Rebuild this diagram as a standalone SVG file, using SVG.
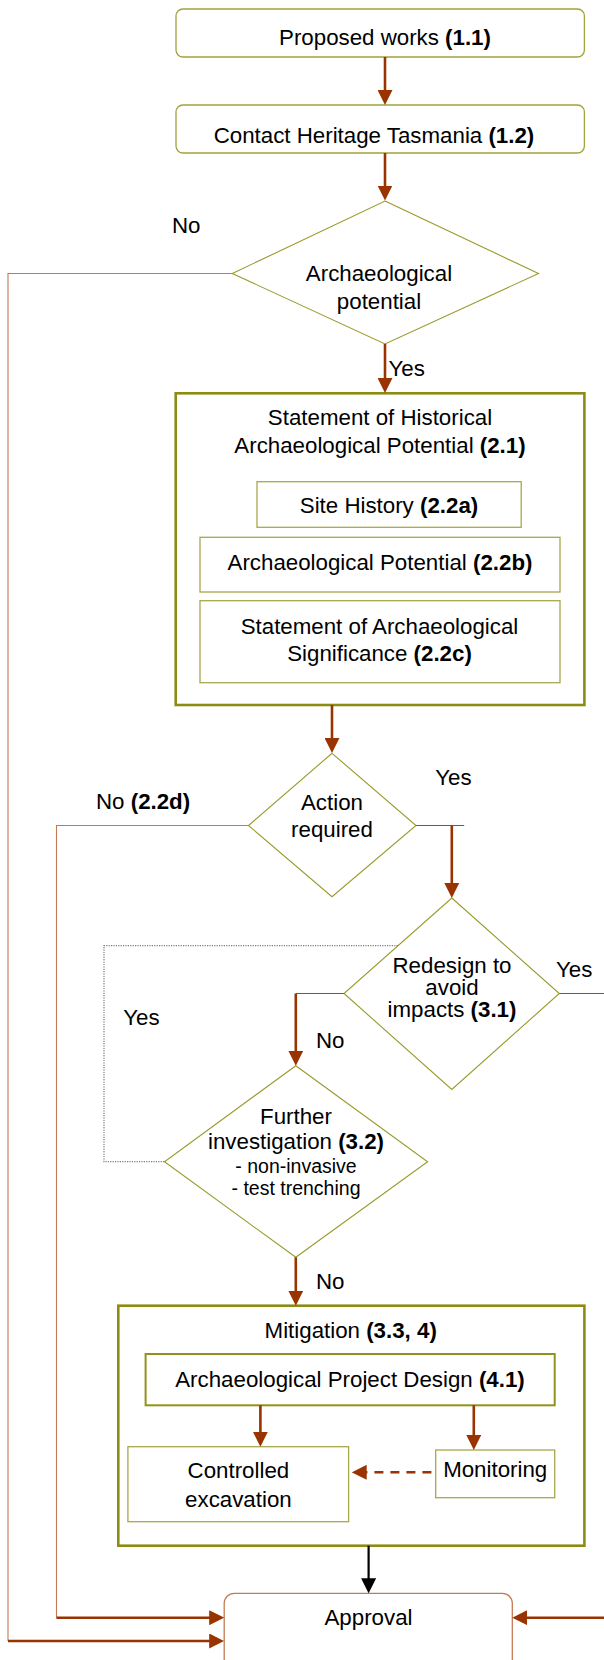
<svg xmlns="http://www.w3.org/2000/svg" width="604" height="1660" viewBox="0 0 604 1660">
<defs>
<marker id="ah" viewBox="0 0 15 15" refX="3" refY="7.5" markerWidth="15" markerHeight="15" markerUnits="userSpaceOnUse" orient="auto"><path d="M0,0 L15,7.5 L0,15 z" fill="#993300"/></marker>
<marker id="ahk" viewBox="0 0 15 15" refX="3" refY="7.5" markerWidth="15" markerHeight="15" markerUnits="userSpaceOnUse" orient="auto"><path d="M0,0 L15,7.5 L0,15 z" fill="#000"/></marker>
</defs>
<style>
text { font-family: "Liberation Sans", Arial, sans-serif; font-size: 22.3px; fill: #000; }
.m { text-anchor: middle; }
.s { font-size: 19.5px; }
.b { font-weight: bold; }
.rbox { fill: #fff; stroke: #a3a33c; stroke-width: 1.3; }
.box { fill: #fff; stroke: #a8a84c; stroke-width: 1.3; }
.box2 { fill: #fff; stroke: #92921c; stroke-width: 2; }
.frame { fill: #fff; stroke: #8c8c14; stroke-width: 2.6; }
.dia { fill: #fff; stroke: #9a9a2c; stroke-width: 1.1; }
.appr { fill: #fff; stroke: #c47a55; stroke-width: 1.3; }
.thick { fill: none; stroke: #993300; stroke-width: 2.6; marker-end: url(#ah); }
.thin { fill: none; stroke: #a4481c; stroke-width: 1.1; }
.tan { fill: none; stroke: #c27a55; stroke-width: 1.1; }
.dot { fill: none; stroke: #7a7a7a; stroke-width: 1.2; stroke-dasharray: 1.2 1.2; }
.dash { fill: none; stroke: #993300; stroke-width: 2.6; stroke-dasharray: 9 7; marker-end: url(#ah); }
.blk { fill: none; stroke: #000; stroke-width: 2.2; marker-end: url(#ahk); }
</style>

<g id="proposed-works">
  <rect class="rbox" x="176" y="9" width="408.4" height="48" rx="7"/>
  <text class="m" x="385" y="45">Proposed works <tspan class="b">(1.1)</tspan></text>
</g>
<g id="contact-heritage">
  <rect class="rbox" x="176" y="105" width="408.4" height="48" rx="7"/>
  <text class="m" x="374" y="143">Contact Heritage Tasmania <tspan class="b">(1.2)</tspan></text>
</g>
<g id="archaeological-potential-decision">
  <polygon class="dia" points="385,201 538.5,273.5 385,344 232.3,273.5"/>
  <text class="m" x="379" y="281">Archaeological</text>
  <text class="m" x="379" y="308.5">potential</text>
</g>
<g id="labels">
  <text x="172" y="232.5">No</text>
  <text x="388.5" y="376">Yes</text>
  <text x="435.3" y="785">Yes</text>
  <text x="96" y="809">No <tspan class="b">(2.2d)</tspan></text>
  <text x="556" y="976.7">Yes</text>
  <text x="123.3" y="1025">Yes</text>
  <text x="316" y="1048.3">No</text>
  <text x="316" y="1289.3">No</text>
</g>
<g id="statement-historical">
  <rect class="frame" x="175.7" y="393.3" width="408.7" height="311.7"/>
  <text class="m" x="380" y="425">Statement of Historical</text>
  <text class="m" x="380" y="453">Archaeological Potential <tspan class="b">(2.1)</tspan></text>
</g>
<g id="site-history">
  <rect class="box" x="257" y="481.7" width="264.2" height="45.6"/>
  <text class="m" x="389" y="513">Site History <tspan class="b">(2.2a)</tspan></text>
</g>
<g id="archaeological-potential">
  <rect class="box" x="200" y="537.3" width="360" height="54.7"/>
  <text class="m" x="380" y="570">Archaeological Potential <tspan class="b">(2.2b)</tspan></text>
</g>
<g id="statement-significance">
  <rect class="box" x="200" y="600.7" width="360" height="82"/>
  <text class="m" x="379.5" y="634">Statement of Archaeological</text>
  <text class="m" x="379.5" y="661">Significance <tspan class="b">(2.2c)</tspan></text>
</g>
<g id="action-required">
  <polygon class="dia" points="332,753.3 416,825.5 332,896.7 248.5,825.5"/>
  <text class="m" x="332" y="810">Action</text>
  <text class="m" x="332" y="836.7">required</text>
</g>
<g id="redesign">
  <polygon class="dia" points="451.8,898 559.3,993.5 451.8,1089.5 344,993.5"/>
  <text class="m" x="452" y="973">Redesign to</text>
  <text class="m" x="452" y="995">avoid</text>
  <text class="m" x="452" y="1017">impacts <tspan class="b">(3.1)</tspan></text>
</g>
<g id="further-investigation">
  <polygon class="dia" points="295.8,1065.7 427.6,1161.7 295.8,1257.3 164.5,1161.7"/>
  <text class="m" x="296" y="1124">Further</text>
  <text class="m" x="296" y="1149.3">investigation <tspan class="b">(3.2)</tspan></text>
  <text class="m s" x="296" y="1172.7">- non-invasive</text>
  <text class="m s" x="296" y="1195">- test trenching</text>
</g>
<g id="mitigation">
  <rect class="frame" x="118.3" y="1305.7" width="466.1" height="240"/>
  <text class="m" x="350.7" y="1338.3">Mitigation <tspan class="b">(3.3, 4)</tspan></text>
</g>
<g id="project-design">
  <rect class="box2" x="145.6" y="1354" width="409.1" height="51.3"/>
  <text class="m" x="350" y="1386.7">Archaeological Project Design <tspan class="b">(4.1)</tspan></text>
</g>
<g id="controlled-excavation">
  <rect class="box" x="127.9" y="1446.7" width="220.7" height="75"/>
  <text class="m" x="238.4" y="1478.3">Controlled</text>
  <text class="m" x="238.4" y="1506.7">excavation</text>
</g>
<g id="monitoring">
  <rect class="box" x="435.7" y="1450" width="119" height="47.7"/>
  <text class="m" x="495.2" y="1476.7">Monitoring</text>
</g>
<g id="approval">
  <rect class="appr" x="224.2" y="1593.3" width="288.1" height="95" rx="10"/>
  <text class="m" x="368.5" y="1625">Approval</text>
</g>

<g id="connectors">
  <line class="thick" x1="385" y1="57" x2="385" y2="93"/>
  <line class="thick" x1="385" y1="153" x2="385" y2="188.5"/>
  <line class="thick" x1="385" y1="344" x2="385" y2="381"/>
  <polyline class="tan" points="232.3,273.5 8,273.5 8,1641"/>
  <line class="thick" x1="8" y1="1641" x2="212.2" y2="1641"/>
  <line class="thick" x1="332" y1="705" x2="332" y2="741"/>
  <polyline class="tan" points="248.5,825.5 56.5,825.5 56.5,1617.7"/>
  <line class="thick" x1="56.5" y1="1617.7" x2="212.2" y2="1617.7"/>
  <line class="thin" x1="416" y1="825.5" x2="464.2" y2="825.5"/>
  <line class="thick" x1="451.8" y1="825.5" x2="451.8" y2="886"/>
  <line class="thin" x1="344" y1="993.5" x2="295.8" y2="993.5"/>
  <line class="thick" x1="295.8" y1="993.5" x2="295.8" y2="1053.7"/>
  <line class="thin" x1="559.3" y1="993.5" x2="604" y2="993.5"/>
  <polyline class="dot" points="397.8,945.7 104,945.7 104,1161.7 164.5,1161.7"/>
  <line class="thick" x1="295.8" y1="1257.3" x2="295.8" y2="1293.7"/>
  <line class="thick" x1="260.4" y1="1405.3" x2="260.4" y2="1434.7"/>
  <line class="thick" x1="473.8" y1="1405.3" x2="473.8" y2="1438"/>
  <line class="dash" x1="431.4" y1="1472.3" x2="363.7" y2="1472.3"/>
  <line class="blk" x1="368.6" y1="1545.7" x2="368.6" y2="1581.3"/>
  <line class="thick" x1="604" y1="1617.7" x2="524.3" y2="1617.7"/>
</g>
</svg>
